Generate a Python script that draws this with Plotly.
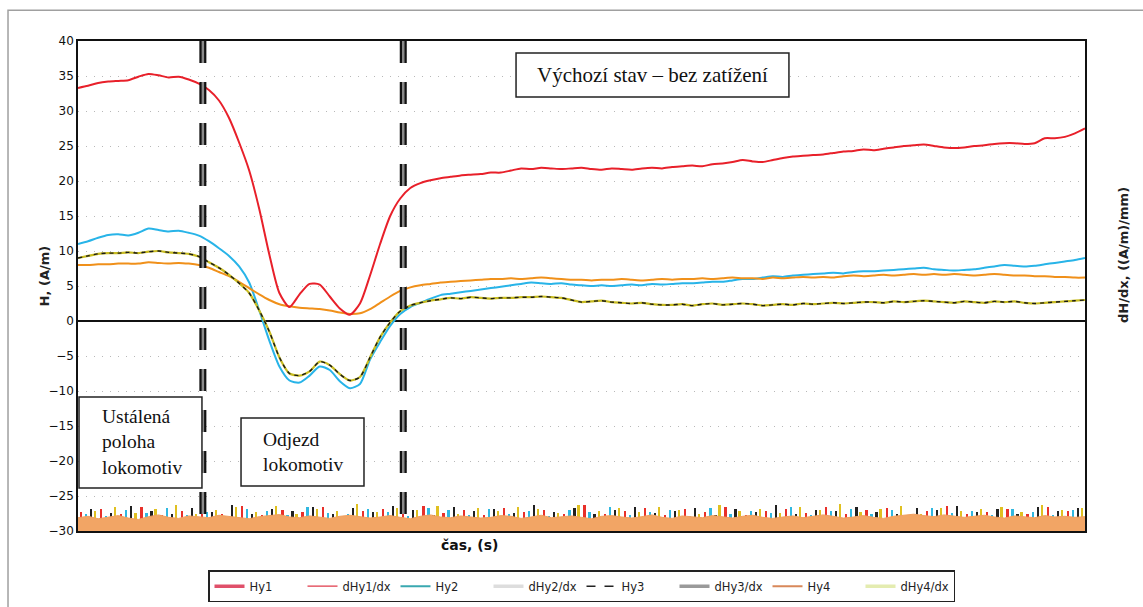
import plotly.graph_objects as go

# ---------------- data ----------------
t = list(range(0, 1001, 10))

hy1 = [33.3, 33.6, 34.0, 34.2, 34.3, 34.4, 34.9, 35.3, 35.1, 34.8,
       34.9, 34.5, 33.9, 33.0, 31.5, 29.0, 25.5, 21.5, 16.0, 9.5,
       4.0, 2.0, 3.8, 5.3, 5.2, 3.5, 1.8, 0.9, 2.5, 6.5,
       11.0, 15.0, 17.5, 19.0, 19.7, 20.1, 20.4, 20.6, 20.8, 20.9,
       21.0, 21.2, 21.2, 21.5, 21.8, 21.7, 21.9, 21.8, 21.7, 21.8,
       21.9, 21.7, 21.6, 21.8, 21.7, 21.6, 21.8, 21.9, 21.8, 22.0,
       22.1, 22.2, 22.1, 22.4, 22.5, 22.7, 23.0, 22.8, 22.7, 23.0,
       23.3, 23.5, 23.6, 23.7, 23.8, 24.0, 24.2, 24.3, 24.5, 24.4,
       24.6, 24.8, 25.0, 25.1, 25.2, 25.0, 24.8, 24.7, 24.8, 25.0,
       25.1, 25.3, 25.4, 25.4, 25.3, 25.4, 26.1, 26.1, 26.3, 26.8, 27.5]

hy2 = [11.0, 11.4, 11.9, 12.3, 12.4, 12.2, 12.6, 13.2, 13.0, 12.8,
       12.9, 12.6, 12.2, 11.4, 10.4, 9.3, 7.8, 5.5, 1.5, -2.8,
       -6.5, -8.5, -8.8, -7.8, -6.5, -7.0, -8.6, -9.6, -9.0, -5.5,
       -3.0, -0.7, 1.0, 2.0, 2.6, 3.2, 3.7, 3.9, 4.1, 4.3,
       4.5, 4.7, 4.9, 5.1, 5.3, 5.5, 5.4, 5.3, 5.4, 5.2,
       5.1, 5.0, 5.1, 5.0, 5.1, 5.2, 5.1, 5.3, 5.2, 5.3,
       5.4, 5.4, 5.5, 5.6, 5.6, 5.8, 6.0, 6.0, 6.2, 6.4,
       6.3, 6.5, 6.6, 6.7, 6.8, 6.9, 6.8, 7.0, 7.1, 7.1,
       7.2, 7.3, 7.4, 7.5, 7.6, 7.4, 7.3, 7.2, 7.3, 7.4,
       7.6, 7.8, 8.0, 7.9, 7.8, 7.9, 8.1, 8.3, 8.5, 8.7, 9.0]

hy3 = [9.0, 9.3, 9.6, 9.7, 9.7, 9.8, 9.7, 9.9, 10.0, 9.8,
       9.7, 9.6, 9.2, 8.4, 7.6, 6.6, 5.4, 4.0, 1.5, -1.5,
       -5.2, -7.5, -7.8, -7.2, -5.8, -6.3, -7.6, -8.5, -8.0, -5.2,
       -2.3, -0.2, 1.4, 2.2, 2.6, 2.9, 3.1, 3.3, 3.2, 3.4,
       3.3, 3.2, 3.3, 3.3, 3.4, 3.4, 3.5, 3.4, 3.3, 3.0,
       2.7, 2.8, 2.9, 2.7, 2.6, 2.5, 2.6, 2.4, 2.3, 2.3,
       2.4, 2.2, 2.4, 2.5, 2.3, 2.4, 2.5, 2.4, 2.2, 2.3,
       2.4, 2.3, 2.5, 2.4, 2.5, 2.6, 2.5, 2.6, 2.7, 2.7,
       2.6, 2.8, 2.7, 2.8, 2.9, 2.8, 2.7, 2.6, 2.8, 2.7,
       2.6, 2.8, 2.7, 2.8, 2.6, 2.5, 2.6, 2.7, 2.8, 2.9, 3.0]

hy4 = [8.0, 8.0, 8.1, 8.1, 8.2, 8.2, 8.2, 8.4, 8.3, 8.2,
       8.3, 8.2, 8.0, 7.6, 7.0, 6.4, 5.6, 4.7, 3.8, 3.0,
       2.4, 2.1, 1.9, 1.8, 1.7, 1.5, 1.2, 1.0, 1.1, 1.7,
       2.6, 3.5, 4.3, 4.8, 5.1, 5.3, 5.5, 5.6, 5.7, 5.8,
       5.9, 6.0, 6.0, 6.1, 6.0, 6.1, 6.2, 6.1, 6.0, 5.9,
       5.9, 5.8, 5.9, 5.9, 6.0, 5.9, 5.8, 5.9, 6.0, 5.9,
       6.0, 6.0, 6.1, 6.0, 6.1, 6.2, 6.1, 6.1, 6.0, 6.2,
       6.1, 6.2, 6.3, 6.2, 6.3, 6.2, 6.4, 6.5, 6.4, 6.5,
       6.6, 6.5, 6.6, 6.7, 6.6, 6.7, 6.6, 6.7, 6.6, 6.5,
       6.6, 6.7, 6.6, 6.5, 6.5, 6.4, 6.4, 6.3, 6.3, 6.2, 6.2]

# derivative strip (secondary axis)
d_base = [0.38, 0.42, 0.35, 0.40, 0.44, 0.37, 0.33, 0.41, 0.46, 0.39,
          0.36, 0.43, 0.40, 0.38, 0.45, 0.42, 0.37, 0.35, 0.41, 0.44,
          0.47, 0.40, 0.38, 0.43, 0.39, 0.36, 0.42, 0.45, 0.41, 0.37,
          0.40, 0.44, 0.39, 0.35, 0.42, 0.46, 0.40, 0.38, 0.43, 0.41,
          0.37, 0.39, 0.44, 0.42, 0.36, 0.40, 0.45, 0.38, 0.41, 0.43,
          0.39, 0.35, 0.42, 0.44, 0.40, 0.37, 0.41, 0.46, 0.39, 0.36,
          0.43, 0.40, 0.38, 0.44, 0.41, 0.37, 0.42, 0.45, 0.39, 0.36,
          0.40, 0.43, 0.38, 0.41, 0.46, 0.42, 0.37, 0.40, 0.44, 0.39,
          0.36, 0.42, 0.45, 0.48, 0.44, 0.41, 0.46, 0.43, 0.39, 0.42,
          0.45, 0.40, 0.37, 0.43, 0.41, 0.38, 0.44, 0.40, 0.42, 0.39, 0.41]

t_d1 = list(range(3, 1000, 20))
t_d2 = list(range(8, 1000, 20))
t_d3 = list(range(13, 1000, 20))
t_d4 = list(range(17, 1000, 20))

dhy1 = [0.55, 0.62, 0.48, 0.70, 0.45, 0.58, 0.66, 0.50, 0.72, 0.47,
        0.60, 0.53, 0.68, 0.44, 0.57, 0.64, 0.49, 0.71, 0.52, 0.59,
        0.46, 0.67, 0.55, 0.61, 0.48, 0.73, 0.50, 0.58, 0.65, 0.45,
        0.62, 0.54, 0.69, 0.47, 0.56, 0.63, 0.51, 0.70, 0.48, 0.60,
        0.66, 0.45, 0.58, 0.72, 0.50, 0.55, 0.64, 0.49, 0.68, 0.57]
dhy2 = [0.50, 0.44, 0.60, 0.52, 0.66, 0.47, 0.55, 0.41, 0.63, 0.58,
        0.45, 0.69, 0.51, 0.48, 0.62, 0.54, 0.43, 0.67, 0.59, 0.46,
        0.64, 0.50, 0.57, 0.42, 0.61, 0.53, 0.68, 0.47, 0.55, 0.60,
        0.44, 0.65, 0.49, 0.58, 0.52, 0.70, 0.46, 0.56, 0.62, 0.48,
        0.59, 0.43, 0.66, 0.51, 0.57, 0.47, 0.63, 0.54, 0.45, 0.61]
dhy3 = [0.64, 0.52, 0.71, 0.58, 0.49, 0.67, 0.55, 0.74, 0.50, 0.62,
        0.57, 0.69, 0.48, 0.65, 0.53, 0.72, 0.59, 0.46, 0.68, 0.56,
        0.63, 0.51, 0.75, 0.54, 0.66, 0.49, 0.61, 0.70, 0.52, 0.58,
        0.67, 0.47, 0.64, 0.55, 0.73, 0.50, 0.60, 0.57, 0.69, 0.53,
        0.48, 0.66, 0.59, 0.71, 0.54, 0.62, 0.50, 0.68, 0.56, 0.65]
dhy4 = [0.58, 0.70, 0.52, 0.64, 0.75, 0.49, 0.61, 0.68, 0.55, 0.72,
        0.50, 0.63, 0.57, 0.78, 0.53, 0.66, 0.60, 0.71, 0.48, 0.65,
        0.56, 0.69, 0.62, 0.51, 0.74, 0.58, 0.67, 0.54, 0.70, 0.61,
        0.49, 0.73, 0.57, 0.64, 0.52, 0.68, 0.60, 0.76, 0.55, 0.63,
        0.71, 0.50, 0.66, 0.58, 0.62, 0.69, 0.53, 0.74, 0.59, 0.65]

phase_bounds = [124, 323]
y_ticks = list(range(-30, 41, 5))

legend_names = ["Hy1", "dHy1/dx", "Hy2", "dHy2/dx", "Hy3", "dHy3/dx", "Hy4", "dHy4/dx"]
legend_colors = ["#e0506a", "#e03a4a", "#3aa8b0", "#dddddd", "#222222", "#9a9a9a", "#d8885a", "#e4ecb0"]
legend_widths = [3.5, 1.2, 2, 3.5, 1.5, 3.5, 2, 3.5]
legend_dash = ["solid", "solid", "solid", "solid", "dash", "solid", "solid", "solid"]

# ---------------- figure ----------------
fig = go.Figure()

# derivative strip
for tx, vals, col in [(t_d1, dhy1, "#e8302a"), (t_d2, dhy2, "#30b8e0"),
                      (t_d3, dhy3, "#202020"), (t_d4, dhy4, "#e0c020")]:
    fig.add_trace(go.Bar(x=tx, y=vals, width=2.2, marker=dict(color=col, line=dict(width=0)),
                         yaxis="y2", showlegend=False, hoverinfo="skip"))
fig.add_trace(go.Scatter(x=t, y=d_base, yaxis="y2", mode="lines", fill="tozeroy",
                         line=dict(color="#f0a060", width=1), fillcolor="#f2a565",
                         showlegend=False, hoverinfo="skip"))

# main curves
sp = dict(shape="spline", smoothing=0.7)
fig.add_trace(go.Scatter(x=t, y=hy2, mode="lines", line=dict(color="#28b4e8", width=2, **sp), showlegend=False))
fig.add_trace(go.Scatter(x=t, y=hy4, mode="lines", line=dict(color="#f0901a", width=2, **sp), showlegend=False))
fig.add_trace(go.Scatter(x=t, y=hy1, mode="lines", line=dict(color="#e8202a", width=2, **sp), showlegend=False))
fig.add_trace(go.Scatter(x=t, y=hy3, mode="lines", line=dict(color="#c8bc20", width=2.2, **sp), showlegend=False))
fig.add_trace(go.Scatter(x=t, y=hy3, mode="lines", line=dict(color="#1a1a1a", width=1.4, dash="4px,4px", **sp),
                         showlegend=False))

# legend entries
for n, c, w, d in zip(legend_names, legend_colors, legend_widths, legend_dash):
    fig.add_trace(go.Scatter(x=[None], y=[None], mode="lines", name=n,
                             line=dict(color=c, width=w, dash=d)))

# phase boundaries (dashed bars)
for xb in phase_bounds:
    fig.add_shape(type="line", x0=xb, x1=xb, y0=40, y1=-30, xref="x", yref="y",
                  line=dict(color="#111111", width=7, dash="22px,19px"), layer="above")
    fig.add_shape(type="line", x0=xb, x1=xb, y0=40, y1=-30, xref="x", yref="y",
                  line=dict(color="#8a8a8a", width=2.5, dash="22px,19px"), layer="above")

# outer frame
fig.add_shape(type="rect", xref="paper", yref="paper", x0=-0.0695, x1=1.2, y0=-0.3, y1=1.063,
              line=dict(color="#a0a0a0", width=1.5), layer="below")

# annotation boxes
boxes = [(435, 706, 38.3, 32.0), (1.0, 123.1, -10.86, -23.86), (161.9, 284.0, -13.86, -23.57)]
for x0, x1, y0, y1 in boxes:
    fig.add_shape(type="rect", xref="x", yref="y", x0=x0, x1=x1, y0=y0, y1=y1,
                  line=dict(color="#222", width=1.5), fillcolor="white", layer="above")

serif = "Liberation Serif, Times New Roman, serif"
fig.add_annotation(x=570.5, y=35.1, xref="x", yref="y", text="Výchozí stav – bez zatížení",
                   showarrow=False, font=dict(family=serif, size=21, color="#111"))
fig.add_annotation(x=21.8, y=-17.3, xref="x", yref="y", xanchor="left",
                   text="Ustálená<br>poloha<br>lokomotiv",
                   showarrow=False, align="left", font=dict(family=serif, size=19.5, color="#111"))
fig.add_annotation(x=181.7, y=-18.7, xref="x", yref="y", xanchor="left", text="Odjezd<br>lokomotiv",
                   showarrow=False, align="left", font=dict(family=serif, size=19.5, color="#111"))
fig.add_annotation(x=0.389, y=-0.0286, xref="paper", yref="paper", text="<b>čas, (s)</b>",
                   showarrow=False, yanchor="middle",
                   font=dict(family="DejaVu Sans", size=14, color="#111"))
fig.add_annotation(x=1.047, y=0.563, xref="paper", yref="paper", text="<b>dH/dx, ((A/m)/mm)</b>",
                   showarrow=False, textangle=-90,
                   font=dict(family="DejaVu Sans", size=13, color="#222"))
fig.add_annotation(x=-0.043, y=0.52, xref="paper", yref="paper", text="<b>H, (A/m)</b>",
                   showarrow=False, textangle=-90,
                   font=dict(family="DejaVu Sans", size=13, color="#222"))

fig.update_layout(
    width=1143, height=607,
    margin=dict(l=78, r=58, t=41, b=76, autoexpand=False),
    paper_bgcolor="white", plot_bgcolor="white",
    font=dict(family="DejaVu Sans", size=11, color="#222"),
    bargap=0, barmode="overlay",
    xaxis=dict(range=[0, 1000], showticklabels=False, showgrid=False, zeroline=False,
               showline=True, linecolor="#111", linewidth=1.5, mirror=True, ticks=""),
    yaxis=dict(range=[-30, 40], tickvals=y_ticks, showgrid=True, gridcolor="#b8b8b8",
               griddash="1px,7px", gridwidth=1.2, zeroline=True, zerolinecolor="#111",
               zerolinewidth=2, showline=True, linecolor="#111", linewidth=1.5, mirror=True,
               ticks="", tickfont=dict(family="DejaVu Sans", size=12, color="#111")),
    yaxis2=dict(range=[0, 14], overlaying="y", side="right", showticklabels=False,
                showgrid=False, zeroline=False, ticks=""),
    legend=dict(orientation="h", x=0.5, xanchor="center", y=-0.08, yanchor="top",
                bordercolor="#222", borderwidth=1.5, bgcolor="white",
                font=dict(family="DejaVu Sans", size=11.5, color="#222"),
                entrywidth=48, itemwidth=30, tracegroupgap=0),
)

fig.write_html("out.html")
